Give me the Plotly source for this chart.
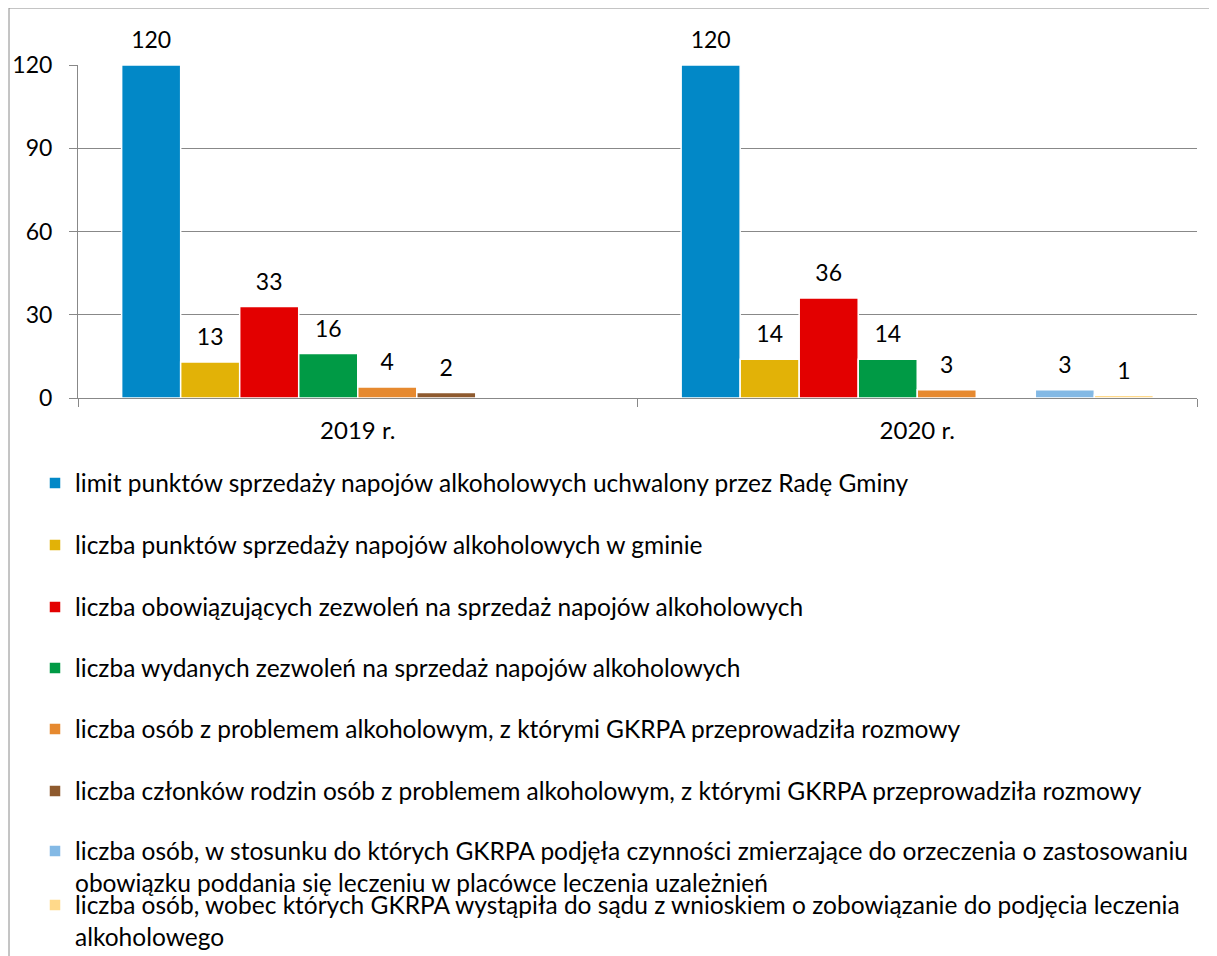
import plotly.graph_objects as go

# ---------------- data ----------------
categories = ["2019 r.", "2020 r."]

series_names = [
    "limit punktów sprzedaży napojów alkoholowych uchwalony przez Radę Gminy",
    "liczba punktów sprzedaży napojów alkoholowych w gminie",
    "liczba obowiązujących zezwoleń na sprzedaż napojów alkoholowych",
    "liczba wydanych zezwoleń na sprzedaż napojów alkoholowych",
    "liczba osób z problemem alkoholowym, z którymi GKRPA przeprowadziła rozmowy",
    "liczba członków rodzin osób z problemem alkoholowym, z którymi GKRPA przeprowadziła rozmowy",
    "liczba osób, w stosunku do których GKRPA podjęła czynności zmierzające do orzeczenia o zastosowaniu<br>obowiązku poddania się leczeniu w placówce leczenia uzależnień",
    "liczba osób, wobec których GKRPA wystąpiła do sądu z wnioskiem o zobowiązanie do podjęcia leczenia<br>alkoholowego",
]

limit_punktow = [120, 120]
punkty_sprzedazy = [13, 14]
obowiazujace_zezwolenia = [33, 36]
wydane_zezwolenia = [16, 14]
osoby_rozmowy = [4, 3]
czlonkowie_rodzin = [2, None]
osoby_leczenie = [None, 3]
osoby_sad = [None, 1]

series_values = [
    limit_punktow,
    punkty_sprzedazy,
    obowiazujace_zezwolenia,
    wydane_zezwolenia,
    osoby_rozmowy,
    czlonkowie_rodzin,
    osoby_leczenie,
    osoby_sad,
]

y_ticks = [0, 30, 60, 90, 120]

# ---------------- style ----------------
colors = ["#0288C7", "#E2B207", "#E30000", "#009A45",
          "#E6892F", "#8E5A2E", "#83B9E5", "#FFD98A"]

FONT = "Lato"
FS_NUM = 23
FS_CAT = 24
FS_LEG = 24.5
W, H = 1217, 956
OFF = 8  # page body margin
# plot area in page pixels: x 78..1197, y 65..398
L = 78 - OFF
T = 65 - OFF
R = W - (1197 - OFF)
B = H - (398 - OFF)
plot_w = W - L - R
plot_h = H - T - B


def px_x(px):
    return (px - OFF - L) / plot_w


def px_y(py):
    return (H - B - (py - OFF)) / plot_h


legend_centers = [483, 545, 607, 668, 729, 791, 867, 921]

fig = go.Figure()
for i, (name, vals, col) in enumerate(zip(series_names, series_values, colors)):
    lg = "legend" if i == 0 else f"legend{i + 1}"
    fig.add_trace(go.Bar(
        x=categories,
        y=vals,
        name=name,
        marker=dict(color=col, line=dict(color="white", width=1.5)),
        texttemplate=f"<span style='font-size:{FS_NUM}px'>%{{y}}</span><br>\u00a0",
        textposition="outside",
        textfont=dict(family=FONT, size=9, color="#000000"),
        cliponaxis=False,
        legend=lg,
        hoverinfo="skip",
    ))

layout_legends = {}
for i, cy in enumerate(legend_centers):
    key = "legend" if i == 0 else f"legend{i + 1}"
    layout_legends[key] = dict(
        x=px_x(35), xanchor="left",
        y=px_y(cy), yanchor="middle",
        bgcolor="rgba(0,0,0,0)",
        borderwidth=0,
        valign="top",
        font=dict(family=FONT, size=FS_LEG, color="#000000"),
    )

grid_col = "#888888"

fig.update_layout(
    width=W, height=H,
    margin=dict(l=L, r=R, t=T, b=B, pad=0, autoexpand=False),
    paper_bgcolor="white",
    plot_bgcolor="white",
    barmode="group",
    bargap=0.156,
    bargroupgap=0,
    showlegend=True,
    font=dict(family=FONT, size=FS_NUM, color="#000000"),
    xaxis=dict(
        type="category",
        showline=True, linecolor=grid_col, linewidth=1,
        ticks="outside", ticklen=8, tickcolor=grid_col, tickwidth=1,
        tickson="boundaries",
        showgrid=False,
        tickfont=dict(family=FONT, size=FS_CAT, color="#000000"),
        ticklabelstandoff=11,
    ),
    yaxis=dict(
        range=[0, 120],
        tickvals=y_ticks,
        showline=True, linecolor=grid_col, linewidth=1,
        ticks="outside", ticklen=8, tickcolor=grid_col, tickwidth=1,
        showgrid=True, gridcolor=grid_col, gridwidth=1,
        zeroline=False,
        tickfont=dict(family=FONT, size=FS_NUM, color="#000000"),
        ticklabelstandoff=12,
    ),
    shapes=[
        dict(type="line", xref="paper", yref="paper",
             x0=px_x(9), x1=px_x(9), y0=px_y(8), y1=px_y(H + 40),
             line=dict(color="#8A8A8A", width=1)),
        dict(type="line", xref="paper", yref="paper",
             x0=px_x(9), x1=px_x(W + 40), y0=px_y(8), y1=px_y(8),
             line=dict(color="#8A8A8A", width=1)),
    ],
    **layout_legends,
)

fig.write_html("out.html")
